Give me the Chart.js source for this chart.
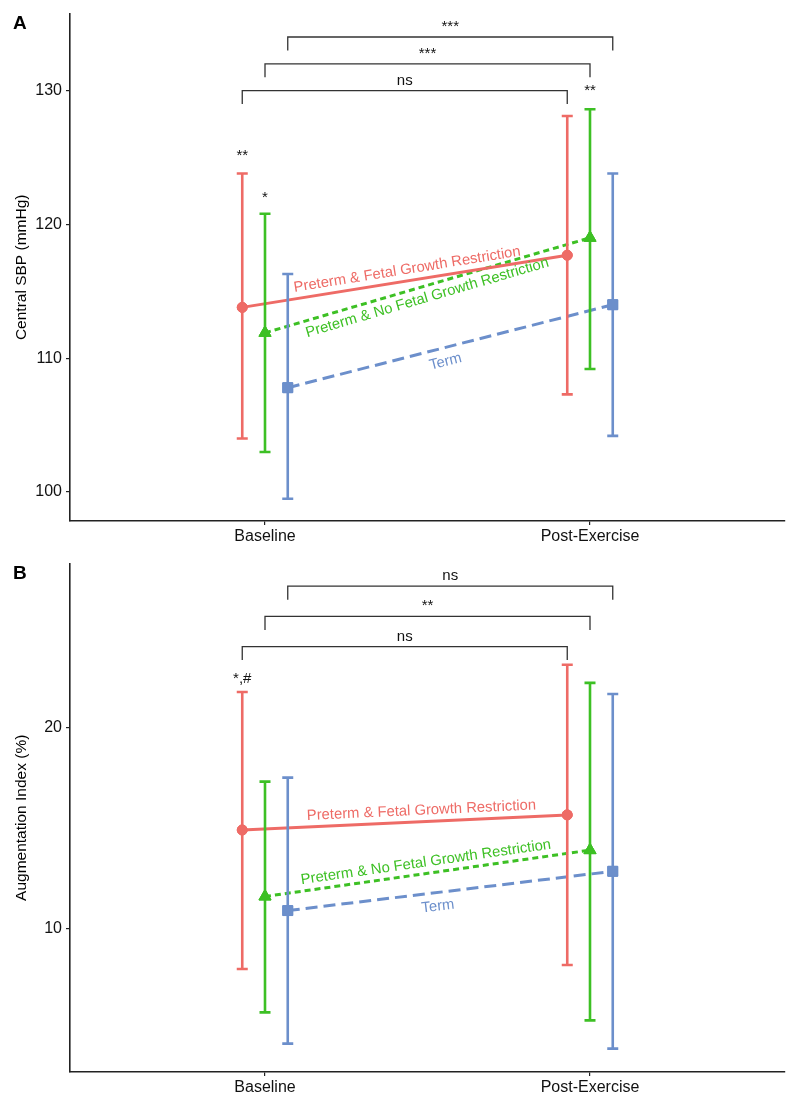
<!DOCTYPE html>
<html>
<head>
<meta charset="utf-8">
<script src="https://cdn.jsdelivr.net/npm/chart.js@4.4.1/dist/chart.umd.min.js"></script>
<style>
  html, body { margin: 0; padding: 0; background: #ffffff; }
  #wrapA { position: absolute; left: 0; top: 0; width: 800px; height: 550px; }
  #wrapB { position: absolute; left: 0; top: 550px; width: 800px; height: 555px; }
</style>
</head>
<body>
<div id="wrapA"><canvas id="chartA" width="800" height="550"></canvas></div>
<div id="wrapB"><canvas id="chartB" width="800" height="555"></canvas></div>
<script>
// ---------------- DATA ----------------
const categories = ['Baseline', 'Post-Exercise'];
const groups = ['Preterm & Fetal Growth Restriction', 'Preterm & No Fetal Growth Restriction', 'Term'];

// Panel A: Central SBP (mmHg)
const sbpMeanFGR   = [113.8, 117.7];
const sbpLowFGR    = [104.0, 107.3];
const sbpHighFGR   = [123.8, 128.1];
const sbpMeanNoFGR = [111.9, 119.0];
const sbpLowNoFGR  = [103.0, 109.2];
const sbpHighNoFGR = [120.8, 128.6];
const sbpMeanTerm  = [107.8, 114.0];
const sbpLowTerm   = [99.5, 104.2];
const sbpHighTerm  = [116.3, 123.8];
const sbpTicks = [100, 110, 120, 130];
const sbpBracketLabels = ['ns', '***', '***'];
const sbpBracketLevels = [130, 132, 134];
const sbpStarTexts  = ['**', '*', '**'];
const sbpStarGroups = [0, 1, 1];
const sbpStarCats   = [0, 0, 1];
const sbpStarLevels = [124.8, 121.7, 129.7];

// Panel B: Augmentation Index (%)
const aixMeanFGR   = [14.9, 15.65];
const aixLowFGR    = [8.0, 8.2];
const aixHighFGR   = [21.75, 23.1];
const aixMeanNoFGR = [11.6, 13.9];
const aixLowNoFGR  = [5.85, 5.45];
const aixHighNoFGR = [17.3, 22.2];
const aixMeanTerm  = [10.9, 12.85];
const aixLowTerm   = [4.3, 4.05];
const aixHighTerm  = [17.5, 21.65];
const aixTicks = [10, 20];
const aixBracketLabels = ['ns', '**', 'ns'];
const aixBracketLevels = [24.0, 25.5, 27.0];
const aixStarTexts  = ['*,#'];
const aixStarGroups = [0];
const aixStarCats   = [0];
const aixStarLevels = [22.2];

// ---------------- STYLE ----------------
const FONT = '"Liberation Sans", Arial, Helvetica, sans-serif';
const colors = ['#EE6B66', '#3DC024', '#6C8FCB'];
const dashes = [[], [6, 4], [12, 6]];
const pointStyles = ['circle', 'triangle', 'rect'];
const pointRadii = [5, 7, 7];
const dodge = [-0.07, 0, 0.07];

function buildPanel(canvasId, cfg) {
  const means = cfg.means, lows = cfg.lows, highs = cfg.highs;
  const datasets = means.map((m, gi) => ({
    label: groups[gi],
    data: m.map((v, ci) => ({ x: ci + 1 + dodge[gi], y: v })),
    borderColor: colors[gi],
    backgroundColor: colors[gi],
    borderWidth: 3,
    borderDash: dashes[gi],
    pointStyle: pointStyles[gi],
    pointRadius: pointRadii[gi],
    pointBackgroundColor: colors[gi],
    pointBorderColor: colors[gi],
    pointBorderWidth: 1,
    tension: 0,
    fill: false
  }));

  const annot = {
    id: 'annot_' + canvasId,
    afterDatasetsDraw(chart) {
      const ctx = chart.ctx;
      const xs = chart.scales.x, ys = chart.scales.y;
      ctx.save();
      // error bars
      for (let gi = 0; gi < 3; gi++) {
        for (let ci = 0; ci < 2; ci++) {
          const px = xs.getPixelForValue(ci + 1 + dodge[gi]);
          const top = ys.getPixelForValue(highs[gi][ci]);
          const bot = ys.getPixelForValue(lows[gi][ci]);
          ctx.setLineDash([]);
          ctx.strokeStyle = colors[gi];
          ctx.lineWidth = 2.6;
          ctx.lineCap = 'butt';
          ctx.beginPath();
          ctx.moveTo(px, top); ctx.lineTo(px, bot);
          ctx.moveTo(px - 5.5, top); ctx.lineTo(px + 5.5, top);
          ctx.moveTo(px - 5.5, bot); ctx.lineTo(px + 5.5, bot);
          ctx.stroke();
        }
      }
      // redraw points on top
      chart.data.datasets.forEach((d, i) => {
        chart.getDatasetMeta(i).data.forEach(p => p.draw(ctx, chart.chartArea));
      });
      // line labels
      ctx.setLineDash([]);
      for (let gi = 0; gi < 3; gi++) {
        const x0 = xs.getPixelForValue(1 + dodge[gi]), y0 = ys.getPixelForValue(means[gi][0]);
        const x1 = xs.getPixelForValue(2 + dodge[gi]), y1 = ys.getPixelForValue(means[gi][1]);
        const ang = Math.atan2(y1 - y0, x1 - x0);
        const lp = cfg.labelPos[gi];
        const cx = x0 + lp.t * (x1 - x0), cy = y0 + lp.t * (y1 - y0);
        ctx.save();
        ctx.translate(cx, cy);
        ctx.rotate(ang);
        ctx.fillStyle = colors[gi];
        ctx.font = '14.8px ' + FONT;
        ctx.textAlign = 'center';
        ctx.textBaseline = 'alphabetic';
        ctx.fillText(groups[gi], 0, lp.off);
        ctx.restore();
      }
      // brackets
      ctx.strokeStyle = '#333333';
      ctx.lineWidth = 1.3;
      ctx.fillStyle = '#111111';
      ctx.font = '15px ' + FONT;
      ctx.textAlign = 'center';
      ctx.textBaseline = 'alphabetic';
      cfg.bracketLevels.forEach((lvl, gi) => {
        const xa = xs.getPixelForValue(1 + dodge[gi]);
        const xb = xs.getPixelForValue(2 + dodge[gi]);
        const y = ys.getPixelForValue(lvl);
        ctx.beginPath();
        ctx.moveTo(xa, y + 13.5); ctx.lineTo(xa, y); ctx.lineTo(xb, y); ctx.lineTo(xb, y + 13.5);
        ctx.stroke();
        ctx.fillText(cfg.bracketLabels[gi], (xa + xb) / 2, y - 6);
      });
      // significance markers above error bars
      cfg.starTexts.forEach((txt, k) => {
        const px = xs.getPixelForValue(cfg.starCats[k] + 1 + dodge[cfg.starGroups[k]]);
        const py = ys.getPixelForValue(cfg.starLevels[k]);
        ctx.fillText(txt, px, py);
      });
      // panel letter
      ctx.fillStyle = '#000000';
      ctx.font = 'bold 19px ' + FONT;
      ctx.textAlign = 'left';
      ctx.fillText(cfg.letter, 13, 29);
      ctx.restore();
    }
  };

  return new Chart(document.getElementById(canvasId), {
    type: 'line',
    data: { datasets },
    plugins: [annot],
    options: {
      responsive: false,
      animation: false,
      events: [],
      layout: { padding: { left: 0, right: 15, top: 13, bottom: cfg.padBottom } },
      plugins: { legend: { display: false }, tooltip: { enabled: false } },
      scales: {
        x: {
          type: 'linear',
          min: 0.4, max: 2.6,
          afterBuildTicks: s => { s.ticks = categories.map((c, i) => ({ value: i + 1 })); },
          afterFit: s => { s.height = 29; },
          ticks: {
            callback: v => categories[v - 1],
            font: { family: FONT, size: 16 },
            color: '#111111',
            padding: 2,
            autoSkip: false,
            maxRotation: 0
          },
          grid: { drawOnChartArea: false, drawTicks: true, tickLength: 4, color: '#222222', lineWidth: 1.2 },
          border: { display: true, color: '#222222', width: 1.6 }
        },
        y: {
          type: 'linear',
          min: cfg.yMin, max: cfg.yMax,
          afterBuildTicks: s => { s.ticks = cfg.ticks.map(v => ({ value: v })); },
          afterFit: s => { s.width = 70; },
          ticks: {
            font: { family: FONT, size: 16 },
            color: '#111111',
            padding: 4
          },
          title: {
            display: true,
            text: cfg.yTitle,
            font: { family: FONT, size: 15.5 },
            color: '#000000',
            padding: { top: 12, bottom: 0 }
          },
          grid: { drawOnChartArea: false, drawTicks: true, tickLength: 4, color: '#222222', lineWidth: 1.2 },
          border: { display: true, color: '#222222', width: 1.6 }
        }
      }
    }
  });
}

buildPanel('chartA', {
  letter: 'A',
  yTitle: 'Central SBP (mmHg)',
  yMin: 97.84, yMax: 135.75,
  ticks: sbpTicks,
  means: [sbpMeanFGR, sbpMeanNoFGR, sbpMeanTerm],
  lows:  [sbpLowFGR, sbpLowNoFGR, sbpLowTerm],
  highs: [sbpHighFGR, sbpHighNoFGR, sbpHighTerm],
  bracketLabels: sbpBracketLabels,
  bracketLevels: sbpBracketLevels,
  starTexts: sbpStarTexts, starGroups: sbpStarGroups, starCats: sbpStarCats, starLevels: sbpStarLevels,
  labelPos: [{ t: 0.513, off: -7 }, { t: 0.489, off: 16 }, { t: 0.475, off: 18 }],
  padBottom: 0
});

buildPanel('chartB', {
  letter: 'B',
  yTitle: 'Augmentation Index (%)',
  yMin: 2.89, yMax: 28.12,
  ticks: aixTicks,
  means: [aixMeanFGR, aixMeanNoFGR, aixMeanTerm],
  lows:  [aixLowFGR, aixLowNoFGR, aixLowTerm],
  highs: [aixHighFGR, aixHighNoFGR, aixHighTerm],
  bracketLabels: aixBracketLabels,
  bracketLevels: aixBracketLevels,
  starTexts: aixStarTexts, starGroups: aixStarGroups, starCats: aixStarCats, starLevels: aixStarLevels,
  labelPos: [{ t: 0.553, off: -7 }, { t: 0.50, off: -7 }, { t: 0.457, off: 18 }],
  padBottom: 4
});
</script>
</body>
</html>
